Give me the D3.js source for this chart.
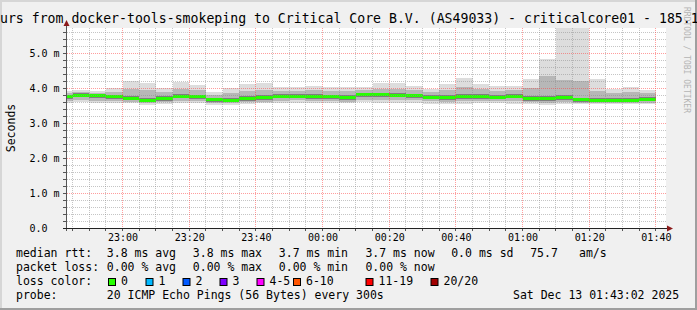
<!DOCTYPE html>
<html>
<head>
<meta charset="utf-8">
<script src="https://cdn.jsdelivr.net/npm/d3@7"></script>
<style>
html, body { margin: 0; padding: 0; background: #f0f0f0; }
svg { display: block; }
text { font-family: "DejaVu Sans Mono", monospace; white-space: pre; }
</style>
</head>
<body>
<svg id="chart"></svg>
<script>
// 5 minute bins (start of each bin), Dec 12/13 2025
const binStart = ["22:40","22:45","22:50","22:55","23:00","23:05","23:10","23:15","23:20","23:25","23:30","23:35",
  "23:40","23:45","23:50","23:55","00:00","00:05","00:10","00:15","00:20","00:25","00:30","00:35",
  "00:40","00:45","00:50","00:55","01:00","01:05","01:10","01:15","01:20","01:25","01:30","01:35"];

// rtt in ms
const median = [3.76,3.80,3.78,3.75,3.71,3.64,3.69,3.77,3.75,3.66,3.65,3.70,3.73,3.77,3.77,3.76,3.75,3.73,
  3.81,3.81,3.79,3.78,3.74,3.73,3.76,3.76,3.74,3.77,3.70,3.69,3.73,3.66,3.65,3.65,3.65,3.68];
const pingMax = [3.92,3.93,3.92,4.00,4.20,4.15,4.00,4.18,4.10,3.90,4.00,4.11,4.15,4.03,4.03,4.05,4.04,4.04,
  4.04,4.15,4.15,4.06,3.98,4.12,4.30,4.12,4.06,4.06,4.26,4.83,6.50,6.50,4.26,3.98,4.03,3.95];
const pingMin = [3.58,3.59,3.57,3.58,3.56,3.52,3.55,3.58,3.57,3.52,3.52,3.55,3.56,3.57,3.58,3.57,3.57,3.56,
  3.59,3.58,3.57,3.57,3.55,3.54,3.55,3.56,3.56,3.55,3.53,3.52,3.54,3.53,3.53,3.54,3.54,3.55];
const ping18 = [3.86,3.88,3.86,3.90,3.98,3.95,3.88,3.98,3.95,3.80,3.85,3.92,3.95,3.92,3.92,3.93,3.92,3.92,
  3.95,3.98,3.98,3.94,3.88,3.95,4.02,3.96,3.92,3.93,4.00,4.35,4.22,4.20,3.92,3.86,3.88,3.85];
const ping3 = [3.63,3.65,3.64,3.63,3.60,3.56,3.59,3.64,3.63,3.57,3.56,3.60,3.61,3.64,3.65,3.63,3.63,3.61,
  3.67,3.67,3.65,3.65,3.62,3.61,3.63,3.63,3.62,3.64,3.59,3.58,3.61,3.57,3.56,3.57,3.57,3.58];
const ping15 = [3.81,3.85,3.83,3.81,3.78,3.72,3.76,3.83,3.81,3.72,3.71,3.77,3.79,3.83,3.83,3.82,3.81,3.79,
  3.86,3.87,3.85,3.84,3.80,3.79,3.82,3.82,3.80,3.83,3.77,3.78,3.80,3.72,3.71,3.71,3.71,3.74];
const ping6 = [3.70,3.73,3.72,3.69,3.65,3.59,3.63,3.71,3.69,3.61,3.60,3.64,3.67,3.71,3.71,3.70,3.69,3.67,
  3.75,3.75,3.73,3.72,3.68,3.67,3.70,3.70,3.68,3.71,3.64,3.63,3.66,3.61,3.60,3.60,3.60,3.62];
const ping12 = [3.78,3.82,3.80,3.77,3.73,3.66,3.71,3.79,3.77,3.68,3.67,3.72,3.75,3.79,3.79,3.78,3.77,3.75,
  3.83,3.83,3.81,3.80,3.76,3.75,3.78,3.78,3.76,3.79,3.72,3.71,3.75,3.68,3.67,3.67,3.67,3.70];
const ping9 = [3.74,3.77,3.76,3.73,3.69,3.62,3.66,3.75,3.73,3.64,3.63,3.68,3.71,3.75,3.75,3.74,3.73,3.71,
  3.79,3.79,3.77,3.76,3.72,3.71,3.74,3.74,3.72,3.75,3.67,3.66,3.70,3.63,3.62,3.62,3.62,3.65];

const yTicks = [0, 1, 2, 3, 4, 5];
const rttLegend = ["median rtt:", "3.8 ms avg", "3.8 ms max", "3.7 ms min", "3.7 ms now", "0.0 ms sd", "75.7", "am/s"];
const lossLegend = ["packet loss:", "0.00 % avg", "0.00 % max", "0.00 % min", "0.00 % now"];
const lossLabels = ["0", "1", "2", "3", "4-5", "6-10", "11-19", "20/20"];
const lossColors = ["#26ff00", "#00b8ff", "#0059ff", "#7e00ff", "#ff00ff", "#ff5500", "#ff0000", "#a10000"];
const probeText = "20 ICMP Echo Pings (56 Bytes) every 300s";
const stampText = "Sat Dec 13 01:43:02 2025";
const title = "Last 3 Hours from docker-tools-smokeping to Critical Core B.V. (AS49033) - criticalcore01 - 185.1";

const W = 697, H = 310;
const pLeft = 66, pRight = 666, pTop = 28, pBottom = 228;

const svg = d3.select("#chart").attr("width", W).attr("height", H);

svg.append("rect").attr("width", W).attr("height", H).attr("fill", "#f0f0f0");
// frame shading
svg.append("rect").attr("x", 0).attr("y", 0).attr("width", W).attr("height", 2).attr("fill", "#d6d6d6");
svg.append("rect").attr("x", 0).attr("y", 0).attr("width", 2).attr("height", H).attr("fill", "#d6d6d6");
svg.append("rect").attr("x", 0).attr("y", H - 2).attr("width", W).attr("height", 2).attr("fill", "#9f9f9f");
svg.append("rect").attr("x", W - 2).attr("y", 0).attr("width", 2).attr("height", H).attr("fill", "#9f9f9f");

const toDate = s => {
  const [h, m] = s.split(":").map(Number);
  return new Date(2025, 11, h >= 12 ? 12 : 13, h, m);
};
const t0 = new Date(2025, 11, 12, 22, 43, 2), t1 = new Date(2025, 11, 13, 1, 43, 2);

const x = d3.scaleTime().domain([t0, t1]).range([pLeft, pRight]);
const y = d3.scaleLinear().domain([0, 200 / 35]).range([pBottom, pTop]);

svg.append("rect").attr("x", pLeft).attr("y", pTop).attr("width", pRight - pLeft).attr("height", pBottom - pTop).attr("fill", "#fff");

svg.append("clipPath").attr("id", "plot").append("rect")
  .attr("x", pLeft + 1).attr("y", pTop).attr("width", pRight - pLeft - 1).attr("height", pBottom - pTop);

const bins = binStart.map((s, i) => ({ a: toDate(s), b: d3.timeMinute.offset(toDate(s), 5), i }));

const g = svg.append("g").attr("clip-path", "url(#plot)");

// smoke layers, outer to inner
const layers = [
  [pingMin, pingMax, "#dddddd"],
  [ping3, ping18, "#b7b7b7"],
  [ping6, ping15, "#7e7e7e"],
  [ping9, ping12, "#454545"]
];
layers.forEach(([lo, hi, col]) => {
  g.append("g").selectAll("rect").data(bins).join("rect")
    .attr("x", d => Math.round(x(d.a)))
    .attr("width", d => Math.round(x(d.b)) - Math.round(x(d.a)))
    .attr("y", d => Math.round(y(hi[d.i])))
    .attr("height", d => Math.round(y(lo[d.i])) - Math.round(y(hi[d.i])))
    .attr("fill", col);
});

// grid
const minorY = d3.range(1, 29).map(k => k * 0.2).filter(v => Math.abs(v - Math.round(v)) > 0.01);
const minorX = x.ticks(d3.timeMinute.every(5)).filter(d => d.getMinutes() % 20 !== 0);
const majorX = x.ticks(d3.timeMinute.every(20));

const grid = svg.append("g").attr("fill", "none").attr("stroke-dasharray", "1,1");
grid.selectAll(".hmin").data(minorY).join("line")
  .attr("x1", pLeft + 1).attr("x2", pRight).attr("y1", d => Math.round(y(d)) + 0.5).attr("y2", d => Math.round(y(d)) + 0.5)
  .attr("stroke", "rgba(140,140,140,0.5)");
grid.selectAll(".vmin").data(minorX).join("line")
  .attr("y1", pTop).attr("y2", pBottom).attr("x1", d => Math.floor(x(d)) + 0.5).attr("x2", d => Math.floor(x(d)) + 0.5)
  .attr("stroke", "rgba(140,140,140,0.5)");
grid.selectAll(".hmaj").data(yTicks.filter(v => v > 0)).join("line")
  .attr("x1", pLeft + 1).attr("x2", pRight).attr("y1", d => Math.round(y(d)) + 0.5).attr("y2", d => Math.round(y(d)) + 0.5)
  .attr("stroke", "rgba(255,60,60,0.5)");
grid.selectAll(".vmaj").data(majorX).join("line")
  .attr("y1", pTop).attr("y2", pBottom).attr("x1", d => Math.floor(x(d)) + 0.5).attr("x2", d => Math.floor(x(d)) + 0.5)
  .attr("stroke", "rgba(255,60,60,0.5)");

// median
g.append("g").selectAll("rect").data(bins).join("rect")
  .attr("x", d => Math.round(x(d.a)))
  .attr("width", d => Math.round(x(d.b)) - Math.round(x(d.a)))
  .attr("y", d => Math.round(y(median[d.i]) - 1.5))
  .attr("height", 3)
  .attr("fill", lossColors[0]);

// axes
const axisCol = "#555";
svg.append("g").selectAll("line").data(minorY.concat(yTicks)).join("line")
  .attr("x1", pLeft - 3).attr("x2", pLeft).attr("y1", d => Math.round(y(d)) + 0.5).attr("y2", d => Math.round(y(d)) + 0.5)
  .attr("stroke", axisCol);
svg.append("g").selectAll("line").data(minorX.concat(majorX)).join("line")
  .attr("y1", pBottom).attr("y2", pBottom + 3).attr("x1", d => Math.floor(x(d)) + 0.5).attr("x2", d => Math.floor(x(d)) + 0.5)
  .attr("stroke", axisCol);
svg.append("line").attr("x1", pLeft + 0.5).attr("x2", pLeft + 0.5).attr("y1", pBottom + 3).attr("y2", 24).attr("stroke", axisCol);
svg.append("line").attr("x1", pLeft - 3).attr("x2", 668).attr("y1", pBottom + 0.5).attr("y2", pBottom + 0.5).attr("stroke", "#222");
svg.append("path").attr("d", `M${pLeft + 0.5},20 L${pLeft - 2.5},26 L${pLeft + 3.5},26 Z`).attr("fill", "#8b1a1a");
svg.append("path").attr("d", `M673,${pBottom + 0.5} L667,${pBottom - 2.5} L667,${pBottom + 3.5} Z`).attr("fill", "#8b1a1a");

const xAxis = d3.axisBottom(x).ticks(d3.timeMinute.every(20)).tickFormat(d3.timeFormat("%H:%M")).tickSize(0);
const xa = svg.append("g").attr("transform", `translate(0,${pBottom})`).call(xAxis);
xa.select(".domain").remove();
xa.selectAll("text").attr("y", 13).attr("dy", null)
  .attr("font-family", "DejaVu Sans Mono").attr("font-size", 10).attr("fill", "#000");

const yAxis = d3.axisLeft(y).tickValues(yTicks).tickFormat(d => d === 0 ? "0.0" : d.toFixed(1) + " m").tickSize(0);
const ya = svg.append("g").call(yAxis);
ya.select(".domain").remove();
ya.selectAll("text").attr("x", 29.5).attr("dy", "0.36em").attr("text-anchor", "start")
  .attr("font-family", "DejaVu Sans Mono").attr("font-size", 10).attr("fill", "#000");

// title and labels
svg.append("text").attr("x", -71.5).attr("y", 23).attr("font-size", 13.2).attr("fill", "#000").text(title);
svg.append("text").attr("transform", "translate(15,128) rotate(-90)").attr("text-anchor", "middle")
  .attr("font-size", 11.5).attr("fill", "#000").text("Seconds");
svg.append("text").attr("transform", "translate(683.5,7) rotate(90)")
  .attr("font-size", 8).attr("fill", "#b4b4b4").text("RRDTOOL / TOBI OETIKER");

// legend
const legend = svg.append("g").attr("font-size", 11.5).attr("fill", "#000");
const rttX = [16, 106.8, 192.8, 278.8, 365.4, 451.2, 530.2, 579];
rttLegend.forEach((s, i) => legend.append("text").attr("x", rttX[i]).attr("y", 257.3).text(s));
lossLegend.forEach((s, i) => legend.append("text").attr("x", rttX[i]).attr("y", 271.3).text(s));
legend.append("text").attr("x", 16).attr("y", 285.3).text("loss color:");
const boxX = [108, 145.5, 182.5, 219.5, 256.5, 293, 365.5, 430.5];
lossLabels.forEach((s, i) => {
  legend.append("rect").attr("x", boxX[i] + 0.5).attr("y", 278.5).attr("width", 7).attr("height", 7)
    .attr("fill", lossColors[i]).attr("stroke", "#000");
  legend.append("text").attr("x", boxX[i] + 13).attr("y", 285.3).text(s);
});
legend.append("text").attr("x", 16).attr("y", 299.3).text("probe:");
legend.append("text").attr("x", 106.8).attr("y", 299.3).text(probeText);
legend.append("text").attr("x", 513).attr("y", 299.3).text(stampText);
</script>
</body>
</html>
